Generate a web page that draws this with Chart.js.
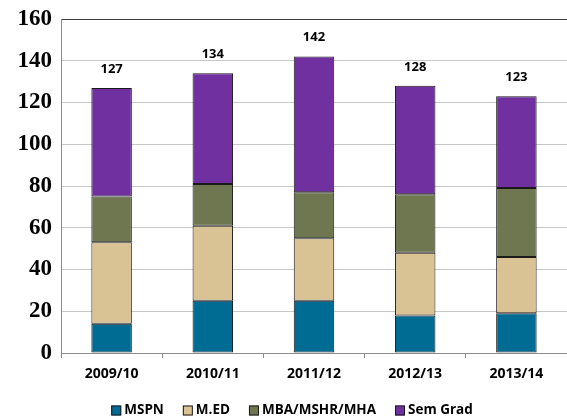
<!DOCTYPE html>
<html>
<head>
<meta charset="utf-8">
<script src="https://cdn.jsdelivr.net/npm/chart.js@4/dist/chart.umd.min.js"></script>
<style>
    html, body { margin: 0; padding: 0; background: #fff; overflow: hidden; }
    #wrap { width: 567px; height: 419px; }
</style>
</head>
<body>
<div id="wrap"><canvas id="enrolChart" width="567" height="419"></canvas></div>
<script>
// --- data ---
const years = ['2009/10', '2010/11', '2011/12', '2012/13', '2013/14'];
const mspn = [14, 25, 25, 18, 19];
const med = [39, 36, 30, 30, 27];
const mba = [22, 20, 22, 28, 33];
const semGrad = [52, 53, 65, 52, 44];
const yTicks = [0, 20, 40, 60, 80, 100, 120, 140, 160];

const sansFont = '"Open Sans", Lato, sans-serif';

// totals written above each stacked column
const totalLabels = {
    id: 'totalLabels',
    afterDatasetsDraw(chart) {
        const c = chart.ctx;
        const last = chart.getDatasetMeta(chart.data.datasets.length - 1);
        c.save();
        c.font = 'bold 13px ' + sansFont;
        c.fillStyle = '#000';
        c.textAlign = 'center';
        c.textBaseline = 'middle';
        years.forEach((y, i) => {
            const total = mspn[i] + med[i] + mba[i] + semGrad[i];
            const bar = last.data[i];
            c.fillText(String(total), bar.x, bar.y - 19);
        });
        c.restore();
    }
};

// legend row along the bottom, small squares close to their text
const bottomLegend = {
    id: 'bottomLegend',
    afterDraw(chart) {
        const c = chart.ctx;
        const sets = chart.data.datasets;
        const box = 10, gap = 3, spacing = 19;
        c.save();
        c.font = 'bold 13.5px ' + sansFont;
        const widths = sets.map(ds => box + gap + c.measureText(ds.label).width);
        const total = widths.reduce((a, b) => a + b, 0) + spacing * (sets.length - 1);
        let x = 292 - total / 2;
        const cy = 410.5;
        c.textBaseline = 'middle';
        c.textAlign = 'left';
        sets.forEach((ds, i) => {
            c.fillStyle = ds.backgroundColor;
            c.fillRect(x, cy - box / 2, box, box);
            c.strokeStyle = '#1a1a1a';
            c.lineWidth = 1;
            c.strokeRect(x + 0.5, cy - box / 2 + 0.5, box - 1, box - 1);
            c.fillStyle = '#000';
            c.fillText(ds.label, x + box + gap, cy);
            x += widths[i] + spacing;
        });
        c.restore();
    }
};

function series(label, data, color) {
    return {
        label: label,
        data: data,
        backgroundColor: color,
        borderColor: '#1a1a1a',
        borderWidth: 1,
        borderSkipped: false,
        barPercentage: 0.8,
        categoryPercentage: 0.5
    };
}

new Chart(document.getElementById('enrolChart').getContext('2d'), {
    type: 'bar',
    data: {
        labels: years,
        datasets: [
            series('MSPN', mspn, '#006C93'),
            series('M.ED', med, '#D9C293'),
            series('MBA/MSHR/MHA', mba, '#6E7750'),
            series('Sem Grad', semGrad, '#7030A0')
        ]
    },
    options: {
        responsive: false,
        animation: false,
        layout: { padding: { top: 19, right: 0, left: 0, bottom: 30 } },
        plugins: {
            tooltip: { enabled: false },
            legend: { display: false }
        },
        scales: {
            x: {
                stacked: true,
                grid: {
                    offset: true,
                    drawOnChartArea: false,
                    tickLength: 5,
                    color: '#8c8c8c'
                },
                border: { color: '#8c8c8c' },
                ticks: {
                    padding: 8,
                    color: '#000',
                    font: { family: sansFont, size: 14, weight: 'bold' }
                },
                afterFit(scale) { scale.height = 36; }
            },
            y: {
                stacked: true,
                min: 0,
                max: 160,
                afterBuildTicks(scale) {
                    scale.ticks = yTicks.map(v => ({ value: v }));
                },
                grid: {
                    drawTicks: false,
                    color: ctx => ctx.tick && ctx.tick.value === 160 ? '#404040' : '#c8c8c8'
                },
                border: { color: '#8c8c8c' },
                ticks: {
                    padding: 9,
                    color: '#000',
                    font: { family: '"Liberation Serif", "Times New Roman", serif', size: 23, weight: 'bold', lineHeight: 0.8 }
                },
                afterFit(scale) { scale.width = 61; }
            }
        }
    },
    plugins: [totalLabels, bottomLegend]
});
</script>
</body>
</html>
